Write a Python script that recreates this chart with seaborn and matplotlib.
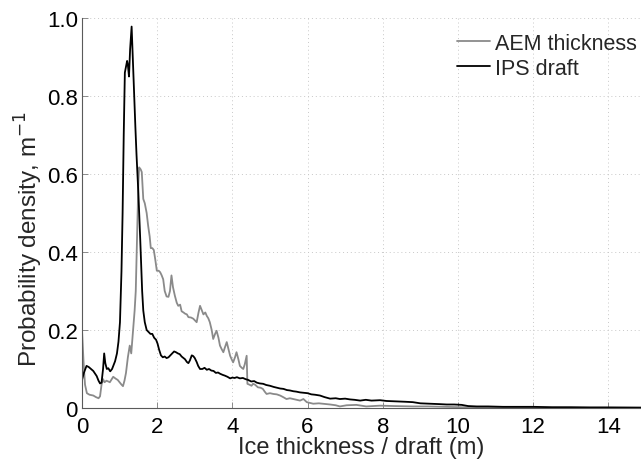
import numpy as np
import pandas as pd
import matplotlib
matplotlib.use("Agg")
import matplotlib.pyplot as plt
import seaborn as sns

# ---- data ----
aem_x = [0.0, 0.04, 0.08, 0.13, 0.2, 0.3, 0.37, 0.44, 0.48, 0.52, 0.56, 0.6, 0.65, 0.7, 0.74,
         0.78, 0.83, 0.9, 0.95, 1.0, 1.05, 1.09, 1.13, 1.17, 1.22, 1.27, 1.31, 1.36, 1.4, 1.43,
         1.46, 1.5, 1.52, 1.56, 1.59, 1.63, 1.67, 1.72, 1.76, 1.8, 1.83, 1.87, 1.91, 1.95, 1.99,
         2.04, 2.08, 2.12, 2.16, 2.2, 2.25, 2.3, 2.34, 2.38, 2.42, 2.47, 2.52, 2.56, 2.61, 2.65,
         2.7, 2.74, 2.79, 2.83, 2.9, 2.96, 3.0, 3.05, 3.1, 3.14, 3.19, 3.23, 3.28, 3.32, 3.36,
         3.4, 3.45, 3.49, 3.54, 3.58, 3.63, 3.67, 3.72, 3.76, 3.8, 3.85, 3.9, 3.94, 3.98, 4.02,
         4.07, 4.11, 4.16, 4.2, 4.25, 4.29, 4.33, 4.38, 4.4, 4.45, 4.51, 4.55, 4.6, 4.68, 4.75,
         4.81, 4.86, 4.91, 5.0, 5.09, 5.18, 5.27, 5.35, 5.44, 5.53, 5.62, 5.71, 5.8, 5.89, 5.98,
         6.15, 6.3, 6.5, 6.6, 6.75, 6.86, 7.04, 7.3, 7.56, 7.93, 8.3, 8.8, 9.2, 9.7, 10.1, 10.5,
         11.0, 12.0, 13.0, 14.0, 14.87]
aem_y = [0.20, 0.12, 0.06, 0.038, 0.034, 0.032, 0.028, 0.025, 0.03, 0.06, 0.074, 0.066, 0.07,
         0.068, 0.066, 0.072, 0.08, 0.075, 0.072, 0.066, 0.06, 0.056, 0.07, 0.09, 0.13, 0.16,
         0.14, 0.2, 0.25, 0.3, 0.42, 0.58, 0.617, 0.612, 0.605, 0.536, 0.525, 0.5, 0.467, 0.44,
         0.41, 0.41, 0.405, 0.38, 0.352, 0.352, 0.348, 0.34, 0.33, 0.3, 0.286, 0.285, 0.30, 0.34,
         0.31, 0.288, 0.27, 0.262, 0.265, 0.248, 0.245, 0.242, 0.24, 0.233, 0.232, 0.229, 0.225,
         0.22, 0.245, 0.262, 0.25, 0.24, 0.245, 0.236, 0.23, 0.22, 0.2, 0.177, 0.19, 0.198, 0.18,
         0.16, 0.15, 0.143, 0.155, 0.169, 0.15, 0.134, 0.125, 0.117, 0.13, 0.143, 0.125, 0.108,
         0.103, 0.1, 0.112, 0.134, 0.062, 0.06, 0.057, 0.062, 0.06, 0.053, 0.052, 0.049, 0.042,
         0.036, 0.038, 0.036, 0.035, 0.032, 0.028, 0.023, 0.025, 0.023, 0.021, 0.019, 0.023,
         0.015, 0.011, 0.012, 0.01, 0.009, 0.007, 0.004, 0.007, 0.008, 0.004, 0.006, 0.005,
         0.004, 0.004, 0.003, 0.002, 0.001, 0.001, 0.001, 0.0005, 0.0005, 0.0005]

ips_x = [0.0, 0.05, 0.12, 0.18, 0.24, 0.3, 0.39, 0.44, 0.48, 0.52, 0.56, 0.59, 0.62, 0.66, 0.7,
         0.75, 0.8, 0.84, 0.88, 0.93, 0.97, 1.01, 1.05, 1.08, 1.11, 1.14, 1.17, 1.2, 1.22, 1.25,
         1.28, 1.32, 1.35, 1.38, 1.42, 1.45, 1.5, 1.55, 1.6, 1.63, 1.67, 1.72, 1.77, 1.82, 1.87,
         1.92, 1.97, 2.01, 2.05, 2.1, 2.15, 2.2, 2.25, 2.3, 2.35, 2.4, 2.45, 2.5, 2.55, 2.6, 2.65,
         2.7, 2.74, 2.79, 2.83, 2.87, 2.92, 2.96, 3.0, 3.05, 3.09, 3.14, 3.2, 3.26, 3.32, 3.38,
         3.44, 3.5, 3.56, 3.62, 3.67, 3.74, 3.8, 3.87, 3.94, 4.0, 4.06, 4.12, 4.2, 4.28, 4.35,
         4.42, 4.5, 4.58, 4.65, 4.73, 4.82, 4.9, 5.0, 5.1, 5.18, 5.27, 5.36, 5.45, 5.53, 5.62,
         5.7, 5.8, 5.9, 6.0, 6.1, 6.2, 6.33, 6.45, 6.6, 6.75, 6.86, 7.0, 7.13, 7.25, 7.4, 7.55,
         7.7, 7.93, 8.1, 8.37, 8.6, 8.8, 9.0, 9.26, 9.5, 9.7, 9.9, 10.1, 10.27, 10.5, 10.8, 11.2,
         11.6, 12.0, 12.5, 13.0, 13.5, 14.0, 14.87]
ips_y = [0.072, 0.09, 0.108, 0.105, 0.1, 0.095, 0.082, 0.07, 0.063, 0.065, 0.1, 0.14, 0.115,
         0.1, 0.102, 0.094, 0.1, 0.11, 0.12, 0.14, 0.17, 0.22, 0.35, 0.5, 0.7, 0.86, 0.875, 0.89,
         0.88, 0.85, 0.92, 0.978, 0.9, 0.82, 0.72, 0.65, 0.55, 0.43, 0.3, 0.25, 0.22, 0.2, 0.195,
         0.19, 0.19, 0.18, 0.175, 0.165, 0.15, 0.135, 0.13, 0.132, 0.128, 0.13, 0.135, 0.14,
         0.145, 0.143, 0.14, 0.138, 0.132, 0.128, 0.125, 0.118, 0.115, 0.122, 0.135, 0.133,
         0.128, 0.118, 0.108, 0.1, 0.1, 0.103, 0.098, 0.1, 0.096, 0.095, 0.09, 0.091, 0.088,
         0.085, 0.083, 0.08, 0.076, 0.078, 0.077, 0.079, 0.076, 0.077, 0.074, 0.072, 0.068,
         0.069, 0.065, 0.063, 0.062, 0.059, 0.057, 0.054, 0.052, 0.05, 0.049, 0.046, 0.045,
         0.043, 0.042, 0.04, 0.039, 0.038, 0.035, 0.034, 0.032, 0.028, 0.024, 0.025, 0.023,
         0.024, 0.022, 0.021, 0.019, 0.021, 0.019, 0.02, 0.018, 0.017, 0.016, 0.015, 0.012,
         0.011, 0.01, 0.009, 0.009, 0.008, 0.005, 0.004, 0.004, 0.003, 0.003, 0.003, 0.002,
         0.002, 0.0015, 0.0015, 0.001]

series_names = ["AEM thickness", "IPS draft"]
series_colors = ["#8a8a8a", "#000000"]
x_ticks = [0, 2, 4, 6, 8, 10, 12, 14]
y_ticks = [0, 0.2, 0.4, 0.6, 0.8, 1.0]
y_tick_labels = ["0", "0.2", "0.4", "0.6", "0.8", "1.0"]

df = pd.concat([
    pd.DataFrame({"x": aem_x, "y": aem_y, "series": series_names[0]}),
    pd.DataFrame({"x": ips_x, "y": ips_y, "series": series_names[1]}),
], ignore_index=True)

sns.set_style("white")
plt.rcParams["font.family"] = ["Liberation Sans", "DejaVu Sans"]

fig = plt.figure(figsize=(6.41, 4.60), dpi=100)
ax = fig.add_axes([82 / 641, (460 - 409) / 460, (641 - 82) / 641, (409 - 19) / 460])

sns.lineplot(data=df, x="x", y="y", hue="series", hue_order=series_names,
             palette=dict(zip(series_names, series_colors)), linewidth=1.3,
             estimator=None, sort=False, ax=ax)

ax.set_xlim(0, 14.87)
ax.set_ylim(0, 1.0)
ax.set_xticks(x_ticks)
ax.set_yticks(y_ticks)
ax.set_yticklabels(y_tick_labels)
ax.grid(True, linestyle=(0, (1, 3)), color="#c8c8c8", linewidth=0.7)
ax.set_axisbelow(True)
for side in ["top", "right"]:
    ax.spines[side].set_visible(False)
for side in ["left", "bottom"]:
    ax.spines[side].set_color("#5a5a5a")
    ax.spines[side].set_linewidth(0.8)
ax.tick_params(direction="in", length=4, width=0.6, color="#7a7a7a",
               labelsize=16, labelcolor="black", left=True, bottom=True)
ax.tick_params(axis="x", pad=6)
ax.tick_params(axis="y", pad=3)
ax.set_xlabel("Ice thickness / draft (m)", fontsize=17, labelpad=-1)
ax.set_ylabel("Probability density, m$^{-1}$", fontsize=17.5)
ax.yaxis.set_label_coords(-0.066, 0.435)

ax.legend(loc="upper right", frameon=False, fontsize=15.5, handlelength=1.5,
          handletextpad=0.25, labelspacing=0.2, borderaxespad=0.1,
          bbox_to_anchor=(1.012, 0.99))

fig.savefig("out.png", dpi=100)
